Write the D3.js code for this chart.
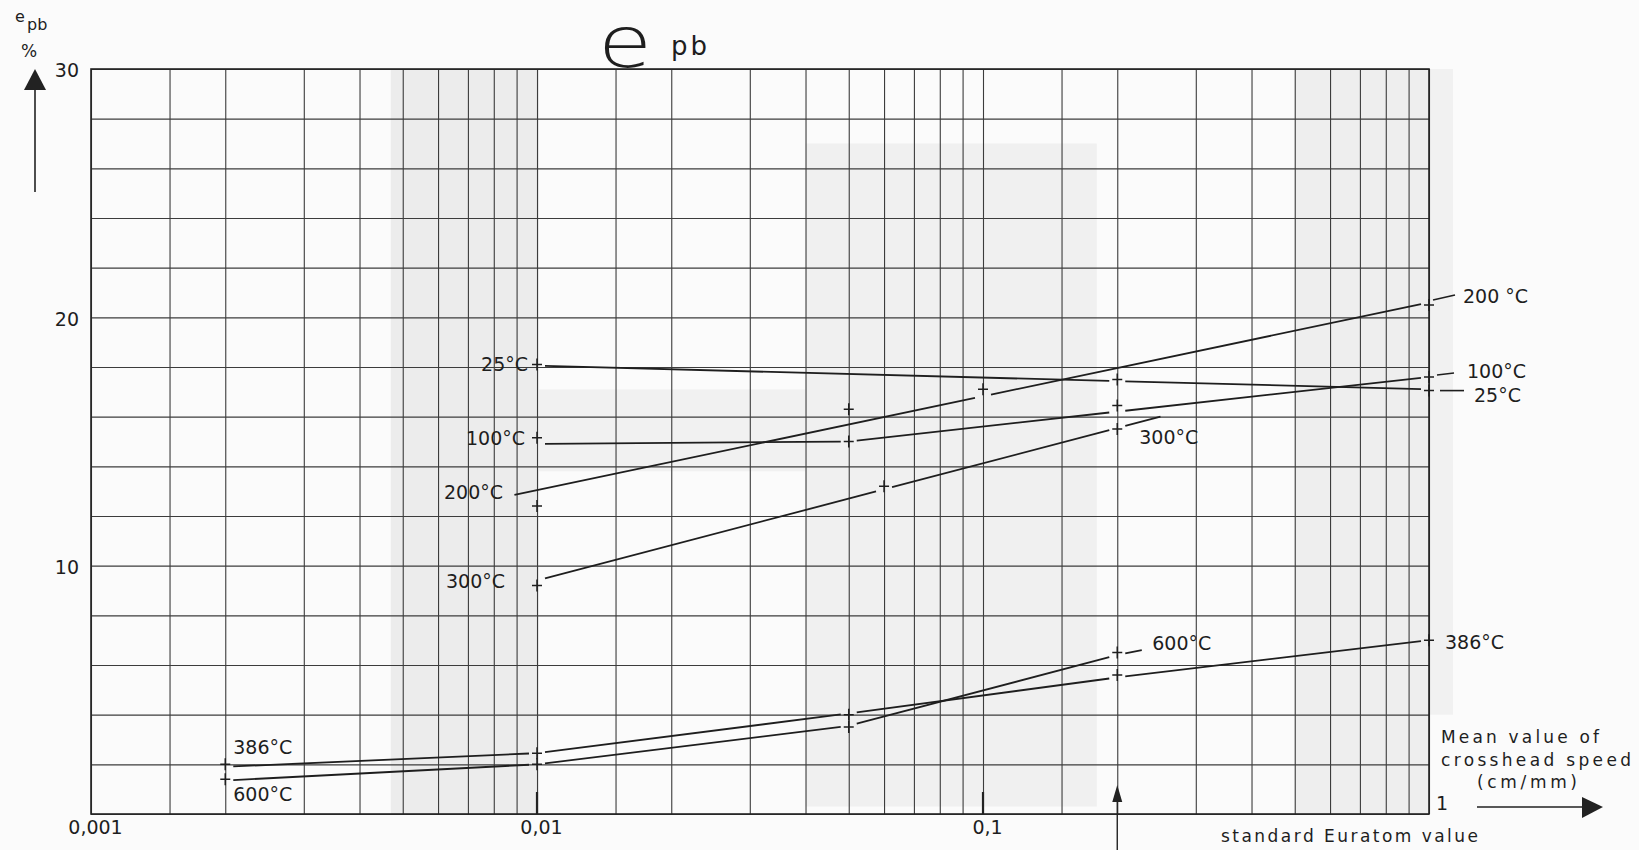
<!DOCTYPE html>
<html>
<head>
<meta charset="utf-8">
<script src="https://cdn.jsdelivr.net/npm/d3@7"></script>
<style>
  html, body { margin: 0; padding: 0; background: #fbfbfb; }
  svg { display: block; }
  text { font-family: "DejaVu Sans", "Liberation Sans", sans-serif; fill: #1e1e1e; }
</style>
</head>
<body>
<svg id="chart" width="1639" height="850"></svg>
<script>
// Elongation e_pb (%) against mean crosshead speed (cm/mm), one series per test temperature.
const temperatures = ["25°C", "100°C", "200°C", "300°C", "386°C", "600°C"];

// measured points (+ markers)
const speeds25 = [0.01, 0.2, 1];
const elong25 = [18.1, 17.5, 17.05];
const speeds100 = [0.01, 0.05, 0.2, 1];
const elong100 = [15.15, 15.0, 16.45, 17.6];
const speeds200 = [0.01, 0.05, 0.1, 1];
const elong200 = [12.4, 16.3, 17.1, 20.5];
const speeds300 = [0.01, 0.06, 0.2];
const elong300 = [9.2, 13.2, 15.5];
const speeds386 = [0.002, 0.01, 0.05, 0.2, 1];
const elong386 = [2.0, 2.45, 4.0, 5.6, 7.0];
const speeds600 = [0.002, 0.01, 0.05, 0.2];
const elong600 = [1.4, 2.0, 3.5, 6.5];

// faired trend lines drawn through the points
const trend25x = [0.01, 1];
const trend25y = [18.05, 17.1];
const trend100x = [0.01, 0.05, 1];
const trend100y = [14.9, 15.0, 17.6];
const trend200x = [0.0089, 1];
const trend200y = [12.85, 20.6];
const trend300x = [0.01, 0.25];
const trend300y = [9.4, 16.0];
const trend386x = [0.002, 0.01, 0.05, 0.2, 1];
const trend386y = [1.9, 2.45, 4.05, 5.5, 7.0];
const trend600x = [0.002, 0.01, 0.05, 0.2, 0.227];
const trend600y = [1.35, 2.0, 3.55, 6.4, 6.6];

// axis ticks
const xDecades = [0.001, 0.01, 0.1];
const xTickLabels = ["0,001", "0,01", "0,1"];
const xGridMultipliers = [1, 1.5, 2, 3, 4, 5, 6, 7, 8, 9];
const yTickValues = [10, 20, 30];

const svg = d3.select("#chart");
const plotL = 91, plotR = 1429, plotT = 69, plotB = 814;

const x = d3.scaleLog().domain([0.001, 1]).range([plotL, plotR]);
const y = d3.scaleLinear().domain([0, 30]).range([plotB, plotT]);

// paper tone of the printed grid sheet
const tone = [
  { x0: 0.0047, x1: 0.0101, y0: 0, y1: 30, c: "#ececec" },
  { x0: 0.04, x1: 0.18, y0: 0.3, y1: 27, c: "#f0f0f0" },
  { x0: 0.5, x1: 1, y0: 0, y1: 30, c: "#eeeeee" },
  { x0: 0.0101, x1: 0.04, y0: 13.8, y1: 17.1, c: "#f1f1f1" }
];
svg.append("g").selectAll("rect").data(tone).join("rect")
  .attr("x", d => x(d.x0)).attr("width", d => x(d.x1) - x(d.x0))
  .attr("y", d => y(d.y1)).attr("height", d => y(d.y0) - y(d.y1))
  .attr("fill", d => d.c);
svg.append("rect").attr("x", x(1)).attr("y", y(30))
  .attr("width", 24).attr("height", y(4) - y(30)).attr("fill", "#f1f1f1");

// grid
const gridValues = [];
xDecades.forEach(d => xGridMultipliers.forEach(m => gridValues.push(d * m)));
gridValues.push(1);

const xGrid = svg.append("g").attr("transform", `translate(0,${plotB})`)
  .call(d3.axisBottom(x).tickValues(gridValues).tickSize(-(plotB - plotT)).tickFormat(""));
xGrid.select(".domain").remove();
xGrid.selectAll("line").attr("stroke", "#3c3c3c").attr("stroke-width", 1.1);

const yGrid = svg.append("g").attr("transform", `translate(${plotL},0)`)
  .call(d3.axisLeft(y).tickValues(y.ticks(15)).tickSize(-(plotR - plotL)).tickFormat(""));
yGrid.select(".domain").remove();
yGrid.selectAll("line").attr("stroke", "#3c3c3c").attr("stroke-width", 1.1);

// frame
svg.append("rect").attr("x", plotL).attr("y", plotT)
  .attr("width", plotR - plotL).attr("height", plotB - plotT)
  .attr("fill", "none").attr("stroke", "#222").attr("stroke-width", 1.6);

// heavier marks at the decades
svg.append("g").selectAll("line").data([0.01, 0.1]).join("line")
  .attr("x1", d => x(d)).attr("x2", d => x(d))
  .attr("y1", plotB).attr("y2", plotB - 22)
  .attr("stroke", "#222").attr("stroke-width", 2.2);

// y tick labels
const yAxis = svg.append("g").attr("transform", `translate(${plotL},0)`)
  .call(d3.axisLeft(y).tickValues(yTickValues).tickSize(0).tickPadding(12).tickFormat(d3.format("d")));
yAxis.select(".domain").remove();
yAxis.selectAll("text").attr("font-size", 19).attr("dy", "0.42em")
  .style("font-family", "DejaVu Sans, sans-serif").attr("fill", "#222");

// x tick labels
const xAxis = svg.append("g").attr("transform", `translate(0,${plotB})`)
  .call(d3.axisBottom(x).tickValues(xDecades).tickSize(0).tickPadding(7)
    .tickFormat((d, i) => xTickLabels[i]));
xAxis.select(".domain").remove();
xAxis.selectAll("text").attr("font-size", 19).attr("x", 4)
  .style("font-family", "DejaVu Sans, sans-serif").attr("fill", "#222");
svg.append("text").attr("x", x(1) + 7).attr("y", plotB - 4)
  .attr("font-size", 19).text("1");

// series
const series = [
  { name: temperatures[0], px: speeds25, py: elong25, tx: trend25x, ty: trend25y },
  { name: temperatures[1], px: speeds100, py: elong100, tx: trend100x, ty: trend100y },
  { name: temperatures[2], px: speeds200, py: elong200, tx: trend200x, ty: trend200y },
  { name: temperatures[3], px: speeds300, py: elong300, tx: trend300x, ty: trend300y },
  { name: temperatures[4], px: speeds386, py: elong386, tx: trend386x, ty: trend386y },
  { name: temperatures[5], px: speeds600, py: elong600, tx: trend600x, ty: trend600y }
];

// trend lines are broken open where they pass a marker
const GAP = 8;
function lineYAt(pts, xp) {
  for (let i = 0; i < pts.length - 1; i++) {
    const [x0, y0] = pts[i], [x1, y1] = pts[i + 1];
    if (xp >= x0 - 0.01 && xp <= x1 + 0.01) return y0 + (y1 - y0) * (xp - x0) / (x1 - x0);
  }
  return null;
}
function brokenLine(pts, gapXs) {
  const segs = [];
  let cur = [];
  const inGap = v => gapXs.some(c => Math.abs(v - c) < GAP);
  for (let i = 0; i < pts.length - 1; i++) {
    const [x0, y0] = pts[i], [x1, y1] = pts[i + 1];
    const cuts = [x0, x1];
    gapXs.forEach(c => [c - GAP, c + GAP].forEach(b => { if (b > x0 && b < x1) cuts.push(b); }));
    cuts.sort((a, b) => a - b);
    const at = v => y0 + (y1 - y0) * (v - x0) / (x1 - x0);
    for (let j = 0; j < cuts.length - 1; j++) {
      const a = cuts[j], b = cuts[j + 1];
      if (b - a < 0.01) continue;
      if (inGap((a + b) / 2)) { if (cur.length) { segs.push(cur); cur = []; } continue; }
      if (!cur.length) cur.push([a, at(a)]);
      cur.push([b, at(b)]);
    }
  }
  if (cur.length) segs.push(cur);
  return segs;
}

const line = d3.line();
const gLines = svg.append("g");
const gMarks = svg.append("g");
series.forEach(s => {
  const pts = s.tx.map((v, i) => [x(v), y(s.ty[i])]);
  const gaps = [];
  s.px.forEach((v, i) => {
    const ly = lineYAt(pts, x(v));
    if (ly !== null && Math.abs(ly - y(s.py[i])) < 10) gaps.push(x(v));
  });
  brokenLine(pts, gaps).forEach(seg => {
    gLines.append("path").attr("d", line(seg))
      .attr("fill", "none").attr("stroke", "#1e1e1e").attr("stroke-width", 1.8);
  });
  s.px.forEach((v, i) => {
    const cx = x(v), cy = y(s.py[i]);
    gMarks.append("path")
      .attr("d", `M${cx - 5},${cy}H${cx + 5}M${cx},${cy - 6}V${cy + 6}`)
      .attr("stroke", "#1e1e1e").attr("stroke-width", 1.5).attr("fill", "none");
  });
});

// temperature labels, each placed beside one of its markers
const labels = [
  { s: 0, i: 0, dx: -9, dy: 0, anchor: "end" },
  { s: 1, i: 0, dx: -12, dy: 0, anchor: "end" },
  { s: 2, i: 0, dx: -34, dy: -14, anchor: "end" },
  { s: 3, i: 0, dx: -32, dy: -4, anchor: "end" },
  { s: 4, i: 0, dx: 8, dy: -17, anchor: "start" },
  { s: 5, i: 0, dx: 8, dy: 15, anchor: "start" },
  { s: 2, i: 3, dx: 34, dy: -9, anchor: "start", text: "200 °C", lead: [4, -5, 26, -10] },
  { s: 1, i: 3, dx: 38, dy: -6, anchor: "start", lead: [8, -2, 25, -4] },
  { s: 0, i: 2, dx: 45, dy: 5, anchor: "start", lead: [11, 0, 35, 0] },
  { s: 3, i: 2, dx: 22, dy: 8, anchor: "start" },
  { s: 5, i: 3, dx: 35, dy: -9, anchor: "start" },
  { s: 4, i: 4, dx: 16, dy: 2, anchor: "start" }
];
const gLab = svg.append("g");
labels.forEach(l => {
  const s = series[l.s];
  const cx = x(s.px[l.i]), cy = y(s.py[l.i]);
  if (l.lead) {
    gLab.append("line")
      .attr("x1", cx + l.lead[0]).attr("y1", cy + l.lead[1])
      .attr("x2", cx + l.lead[2]).attr("y2", cy + l.lead[3])
      .attr("stroke", "#1e1e1e").attr("stroke-width", 1.6);
  }
  gLab.append("text").attr("x", cx + l.dx).attr("y", cy + l.dy)
    .attr("dy", "0.36em").attr("text-anchor", l.anchor)
    .attr("font-size", 19).text(l.text || s.name);
});

// title: large e with subscript pb
svg.append("text")
  .attr("transform", "translate(598,67) scale(1.22,1)")
  .attr("font-weight", 200).attr("font-size", 72).text("e");
svg.append("text").attr("x", 671).attr("y", 55)
  .attr("font-size", 26).attr("letter-spacing", 3).text("pb");

// y axis caption with arrow
svg.append("text").attr("x", 15).attr("y", 22).attr("font-size", 16).text("e");
svg.append("text").attr("x", 27).attr("y", 30).attr("font-size", 16).text("pb");
svg.append("text").attr("x", 21).attr("y", 57).attr("font-size", 17).text("%");
svg.append("line").attr("x1", 35).attr("y1", 192).attr("x2", 35).attr("y2", 86)
  .attr("stroke", "#222").attr("stroke-width", 1.6);
svg.append("path").attr("d", "M35,69L46,90L24,90Z").attr("fill", "#222");

// x axis caption with arrow
const capX = 1441;
[["Mean value of", 737, 158], ["crosshead speed", 760, 190]].forEach(([t, yy, w]) => {
  svg.append("text").attr("x", capX).attr("y", yy).attr("dy", "0.36em")
    .attr("font-size", 17).attr("textLength", w).attr("lengthAdjust", "spacing").text(t);
});
svg.append("text").attr("x", 1477).attr("y", 782).attr("dy", "0.36em")
  .attr("font-size", 17).attr("textLength", 100).attr("lengthAdjust", "spacing").text("(cm/mm)");
svg.append("line").attr("x1", 1477).attr("y1", 807).attr("x2", 1586).attr("y2", 807)
  .attr("stroke", "#222").attr("stroke-width", 1.6);
svg.append("path").attr("d", "M1603,807L1582,797L1582,818Z").attr("fill", "#222");

// standard Euratom speed
const euratom = 0.2;
svg.append("line").attr("x1", x(euratom)).attr("y1", 850).attr("x2", x(euratom)).attr("y2", 798)
  .attr("stroke", "#222").attr("stroke-width", 1.4);
svg.append("path").attr("d", `M${x(euratom)},785L${x(euratom) + 5},802L${x(euratom) - 5},802Z`).attr("fill", "#222");
svg.append("text").attr("x", 1221).attr("y", 836).attr("dy", "0.36em")
  .attr("font-size", 17).attr("textLength", 257).attr("lengthAdjust", "spacing")
  .text("standard Euratom  value");
</script>
</body>
</html>
